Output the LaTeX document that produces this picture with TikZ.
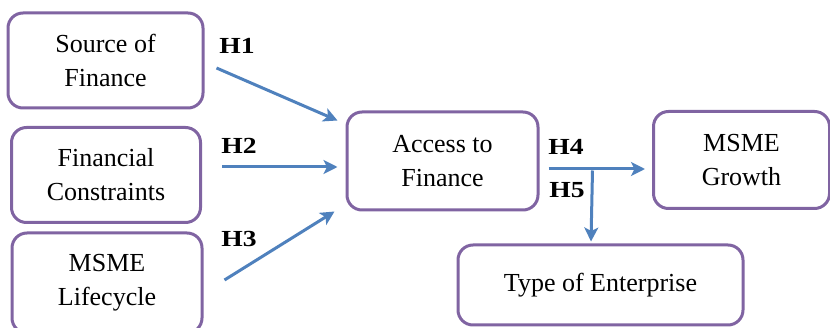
\documentclass[tikz,border=0pt]{standalone}
\usepackage{fontspec}
\setmainfont{Liberation Serif}
\newfontfamily\hypfont{Liberation Serif}[FakeStretch=1.2]
\usetikzlibrary{arrows.meta}
\definecolor{boxpurple}{HTML}{8064A2}
\definecolor{arrblue}{HTML}{4F81BD}
\begin{document}
\begin{tikzpicture}[x=1pt,y=-1pt,
  box/.style={draw=boxpurple, line width=3pt, rounded corners=15pt,
    align=center, inner sep=0pt, font=\fontsize{26}{34}\selectfont},
  link/.style={draw=arrblue, line width=3pt,
    -{Stealth[length=14pt,width=14pt,inset=3.5pt]}},
  hyp/.style={font=\fontsize{23}{27}\hypfont\bfseries}]
\useasboundingbox (0,0) rectangle (830,328);
\clip (0,0) rectangle (830,328);

% construct boxes
\node[box, minimum width=195pt, minimum height=95pt] (src) at (105.5,60.5) {Source of\\Finance};
\node[box, minimum width=189pt, minimum height=95pt] (fc) at (106,175) {Financial\\Constraints};
\node[box, minimum width=190pt, minimum height=100pt] (lc) at (107,283) {MSME\\Lifecycle};
\node[box, minimum width=191pt, minimum height=98pt] (acc) at (442.5,161) {Access to\\Finance};
\node[box, minimum width=176pt, minimum height=97pt] (gr) at (741.5,160) {MSME\\Growth};
\node[box, minimum width=285pt, minimum height=80pt] (te) at (600.5,285) {Type of Enterprise};

% hypothesised paths
\draw[link] ([shift={(12,7.5)}]src.east) -- ([shift={(-8,10)}]acc.north west);
\draw[link] ([shift={(20,-8)}]fc.east) -- ([shift={(-8,6)}]acc.west);
\draw[link] ([shift={(21,-3)}]lc.east) -- ([shift={(-11,0)}]acc.south west);
\draw[link] ([shift={(9,8)}]acc.east) -- ([shift={(-7,9)}]gr.west);
\coordinate (split) at ([shift={(53,8)}]acc.east);
\draw[link] ([yshift=-1.5pt]split) -- ([shift={(-9.5,-2)}]te.north);

% hypothesis labels
\node[hyp] (h1) at (237,45.5) {H1};
\node[hyp] (h2) at (239,146) {H2};
\node[hyp] (h3) at (239,239) {H3};
\node[hyp] (h4) at (566,147) {H4};
\node[hyp] (h5) at (567,190) {H5};
\end{tikzpicture}
\end{document}
